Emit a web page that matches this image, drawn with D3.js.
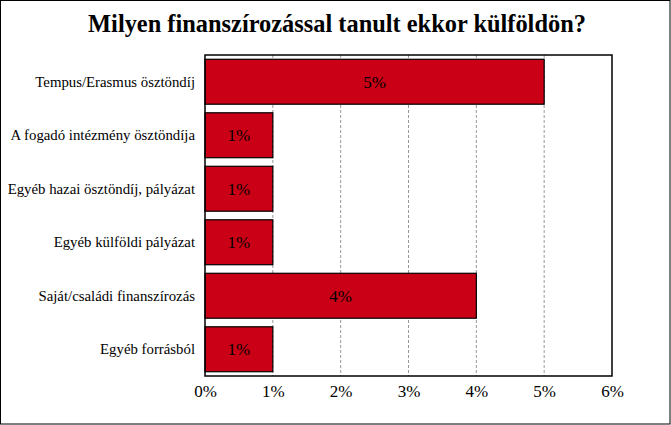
<!DOCTYPE html>
<html><head><meta charset="utf-8">
<script src="https://cdn.jsdelivr.net/npm/d3@7"></script>
<style>body{margin:0;background:#fff}svg{display:block}text{font-family:"Liberation Serif","Times New Roman",serif}</style>
</head><body>
<script>
const title = "Milyen finanszírozással tanult ekkor külföldön?";
const categories = ["Tempus/Erasmus ösztöndíj","A fogadó intézmény ösztöndíja","Egyéb hazai ösztöndíj, pályázat","Egyéb külföldi pályázat","Saját/családi finanszírozás","Egyéb forrásból"];
const values = [5,1,1,1,4,1];
const ticks = [0,1,2,3,4,5,6];

const W=671,H=425;
const m={l:205,r:612,t:55,b:376};
const F='"Liberation Serif","Times New Roman",serif';
const svg=d3.select("body").append("svg").attr("width",W).attr("height",H);
svg.append("rect").attr("x",0.5).attr("y",0.5).attr("width",W-1.5).attr("height",H-1.5).attr("fill","#fff").attr("stroke","#000");
svg.append("text").attr("x",337).attr("y",32).attr("text-anchor","middle")
  .style("font-family",F).attr("font-weight","bold").attr("font-size",24.4).text(title);
const x=d3.scaleLinear().domain([0,6]).range([m.l,m.r]);
const y=d3.scaleBand().domain(categories).range([m.t,m.b]).paddingInner(0.16).paddingOuter(0.08);
// grid
svg.append("g").selectAll("line").data(ticks.slice(1,-1)).join("line")
  .attr("x1",d=>x(d)).attr("x2",d=>x(d)).attr("y1",m.t).attr("y2",m.b)
  .attr("stroke","#999").attr("stroke-dasharray","3,2");
// bars
svg.append("g").selectAll("rect").data(values).join("rect")
  .attr("x",x(0)).attr("y",(d,i)=>y(categories[i])).attr("width",d=>x(d)-x(0)).attr("height",y.bandwidth())
  .attr("fill","#C90016").attr("stroke","#000").attr("stroke-width",1.2);
svg.append("g").selectAll("text").data(values).join("text")
  .attr("x",d=>(x(d)+x(0))/2).attr("y",(d,i)=>y(categories[i])+y.bandwidth()/2+6)
  .attr("text-anchor","middle").style("font-family",F).attr("font-size",17).text(d=>d+"%");
// frame
svg.append("rect").attr("x",m.l).attr("y",m.t).attr("width",m.r-m.l).attr("height",m.b-m.t).attr("fill","none").attr("stroke","#000").attr("stroke-width",1.5);
// x axis
const xa=d3.axisBottom(x).tickValues(ticks).tickFormat(d=>d+"%").tickSize(0).tickPadding(9);
svg.append("g").attr("transform",`translate(0,${m.b})`).call(xa)
  .call(g=>g.select(".domain").remove())
  .call(g=>g.attr("font-family",null))
  .selectAll("text").style("font-family",F).attr("font-size",17).attr("fill","#000");
// y axis
const ya=d3.axisLeft(y).tickSize(0).tickPadding(10);
svg.append("g").attr("transform",`translate(${m.l},0)`).call(ya)
  .call(g=>g.select(".domain").remove())
  .call(g=>g.attr("font-family",null))
  .selectAll("text").style("font-family",F).attr("font-size",14.8).attr("fill","#000");
</script>
</body></html>
